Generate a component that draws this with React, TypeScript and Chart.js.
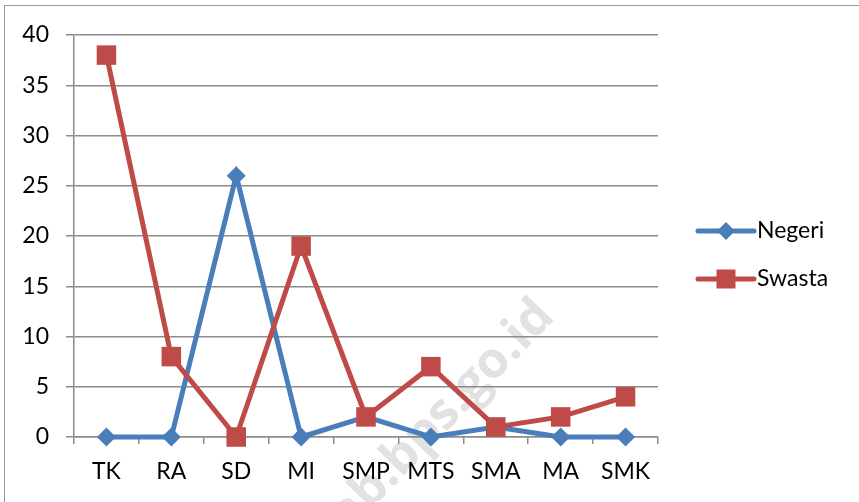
import React, { useEffect, useRef } from "react";
import { Chart, registerables } from "chart.js";

Chart.register(...registerables);

const categories = ["TK", "RA", "SD", "MI", "SMP", "MTS", "SMA", "MA", "SMK"];
const negeri = [0, 0, 26, 0, 2, 0, 1, 0, 0];
const swasta = [38, 8, 0, 19, 2, 7, 1, 2, 4];
const seriesNames = ["Negeri", "Swasta"];
const yMin = 0;
const yMax = 40;
const yStep = 5;
const watermarkText = "kab.bps.go.id";

const BLUE = "#4A7EBB";
const RED = "#BE4B48";
const GRID = "#8c8c8c";
const FONT = "Lato";
const FONT_SIZE = 23;
const LINE_W = 5;

const watermarkPlugin = {
  id: "watermark",
  beforeDraw(chart: any) {
    const ctx = chart.ctx;
    ctx.save();
    ctx.translate(556, 318);
    ctx.rotate(-46 * Math.PI / 180);
    ctx.font = `bold 50px "Open Sans"`;
    ctx.fillStyle = "#e2e2e2";
    ctx.textAlign = "right";
    ctx.textBaseline = "alphabetic";
    ctx.fillText(watermarkText, 0, 0);
    ctx.restore();
  },
};

function drawMarker(ctx: CanvasRenderingContext2D, style: string, x: number, y: number, color: string) {
  ctx.fillStyle = color;
  ctx.beginPath();
  if (style === "rectRot") {
    const r = 9;
    ctx.moveTo(x, y - r);
    ctx.lineTo(x + r, y);
    ctx.lineTo(x, y + r);
    ctx.lineTo(x - r, y);
    ctx.closePath();
  } else {
    const h = 9.5;
    ctx.rect(x - h, y - h, 2 * h, 2 * h);
  }
  ctx.fill();
}

const legendPlugin = {
  id: "customLegend",
  afterDraw(chart: any) {
    const ctx = chart.ctx;
    const area = chart.chartArea;
    const x0 = area.right + 40;
    const x1 = x0 + 56;
    const ys = [231, 279];
    chart.data.datasets.forEach((ds: any, i: number) => {
      const y = ys[i];
      ctx.save();
      ctx.strokeStyle = ds.borderColor;
      ctx.lineWidth = LINE_W;
      ctx.lineCap = "round";
      ctx.beginPath();
      ctx.moveTo(x0, y);
      ctx.lineTo(x1, y);
      ctx.stroke();
      drawMarker(ctx, ds.pointStyle, (x0 + x1) / 2, y, ds.borderColor);
      ctx.fillStyle = "#000";
      ctx.font = `${FONT_SIZE}px ${FONT}`;
      ctx.textAlign = "left";
      ctx.textBaseline = "middle";
      ctx.fillText(ds.label, x1 + 3, y);
      ctx.restore();
    });
  },
};

export default function App() {
  const ref = useRef<HTMLCanvasElement | null>(null);
  useEffect(() => {
    if (!ref.current) return;
    const chart = new Chart(ref.current, {
      type: "line",
      data: {
        labels: categories,
        datasets: [
          {
            label: seriesNames[0],
            data: negeri,
            borderColor: BLUE,
            backgroundColor: BLUE,
            borderWidth: LINE_W,
            pointStyle: "rectRot",
            pointRadius: 9.5,
            pointBorderWidth: 0,
            pointBackgroundColor: BLUE,
            tension: 0,
            clip: false,
            order: 1,
          },
          {
            label: seriesNames[1],
            data: swasta,
            borderColor: RED,
            backgroundColor: RED,
            borderWidth: LINE_W,
            pointStyle: "rect",
            pointRadius: 13.8,
            pointBorderWidth: 0,
            pointBackgroundColor: RED,
            tension: 0,
            clip: false,
            order: 0,
          },
        ],
      },
      options: {
        animation: false,
        responsive: true,
        maintainAspectRatio: false,
        layout: { padding: { top: 35, right: 201, bottom: 0, left: 0 } },
        plugins: {
          legend: { display: false },
          tooltip: { enabled: false },
        },
        scales: {
          x: {
            offset: true,
            grid: {
              offset: true,
              drawOnChartArea: false,
              drawTicks: true,
              tickLength: 7,
              color: GRID,
              lineWidth: 1.5,
            },
            border: { display: true, color: GRID, width: 1.5 },
            ticks: {
              color: "#000",
              font: { family: FONT, size: FONT_SIZE },
              padding: 14,
              maxRotation: 0,
              autoSkip: false,
            },
            afterFit: (s: any) => {
              s.height = 65;
            },
          },
          y: {
            min: yMin,
            max: yMax,
            grid: { color: GRID, tickLength: 8, drawTicks: true, lineWidth: 1.5 },
            border: { display: true, color: GRID, width: 1.5 },
            ticks: {
              stepSize: yStep,
              color: "#000",
              font: { family: FONT, size: FONT_SIZE },
              padding: 17,
            },
            afterFit: (s: any) => {
              s.width = 74;
            },
          },
        },
      },
      plugins: [watermarkPlugin, legendPlugin],
    });
    return () => chart.destroy();
  }, []);

  return (
    <div style={{ position: "absolute", left: 0, top: 0, width: 859, height: 502, background: "#fff" }}>
      <div
        style={{
          position: "absolute",
          left: 4,
          top: 5,
          width: 900,
          height: 600,
          borderLeft: "1.5px solid #9a9a9a",
          borderTop: "1.5px solid #9a9a9a",
        }}
      />
      <div style={{ position: "absolute", left: 0, top: 0, width: 859, height: 502 }}>
        <canvas ref={ref} />
      </div>
    </div>
  );
}
